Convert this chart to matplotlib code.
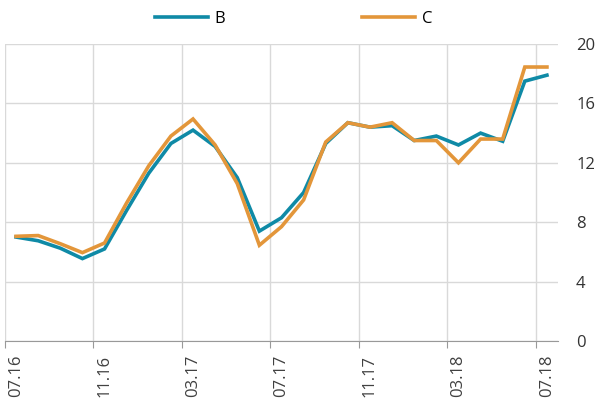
import matplotlib.pyplot as plt
import numpy as np

plt.rcParams['font.family'] = ['Open Sans', 'DejaVu Sans']

months = ['07.16', '08.16', '09.16', '10.16', '11.16', '12.16', '01.17', '02.17', '03.17',
          '04.17', '05.17', '06.17', '07.17', '08.17', '09.17', '10.17', '11.17', '12.17',
          '01.18', '02.18', '03.18', '04.18', '05.18', '06.18', '07.18']
series_b = [7.0, 6.75, 6.25, 5.55, 6.2, 8.8, 11.3, 13.3, 14.2, 13.1, 11.0, 7.4, 8.3,
            10.0, 13.3, 14.7, 14.4, 14.5, 13.5, 13.8, 13.2, 14.0, 13.45, 17.5, 17.9]
series_c = [7.05, 7.1, 6.55, 5.95, 6.6, 9.3, 11.8, 13.8, 14.95, 13.2, 10.6, 6.45, 7.7,
            9.5, 13.4, 14.7, 14.4, 14.7, 13.5, 13.5, 12.0, 13.6, 13.6, 18.45, 18.45]

x = np.arange(len(months))

fig = plt.figure(figsize=(5.99, 4.07), dpi=100)
ax = fig.add_axes([5 / 599, 1 - 341 / 407, 553 / 599, 297 / 407])

ax.plot(x, series_b, color='#0F8AA6', lw=2.6, label='B', solid_joinstyle='miter')
ax.plot(x, series_c, color='#E3963A', lw=2.6, label='C', solid_joinstyle='miter')

# category axis: tick marks between slots, labels centred on slots, every 4 months
ax.set_xticks(np.arange(0, len(months), 4) - 0.5)
ax.set_xticklabels([])
ax.set_xticks(np.arange(0, len(months), 4), minor=True)
ax.set_xticklabels(months[::4], minor=True, rotation=90, fontsize=12, color='#404040')
ax.set_xlim(-0.5, len(months) - 0.5)

ax.set_ylim(0, 20)
ax.set_yticks(range(0, 21, 4))
ax.yaxis.tick_right()
ax.tick_params(axis='y', length=0, pad=13, labelsize=12, labelcolor='#333333')
ax.tick_params(axis='x', which='major', length=5, color='#999999')
ax.tick_params(axis='x', which='minor', length=0, pad=10)

ax.grid(True, which='major', color='#d9d9d9', lw=1)
ax.set_axisbelow(True)
for s in ['top', 'right', 'left']:
    ax.spines[s].set_visible(False)
ax.spines['bottom'].set_color('#999999')

fig.legend(loc='upper center', bbox_to_anchor=(0.49, 1.01), ncol=2, frameon=False,
           fontsize=12, handlelength=3.2, columnspacing=8.2, handletextpad=0.4)

plt.savefig('out.png')
